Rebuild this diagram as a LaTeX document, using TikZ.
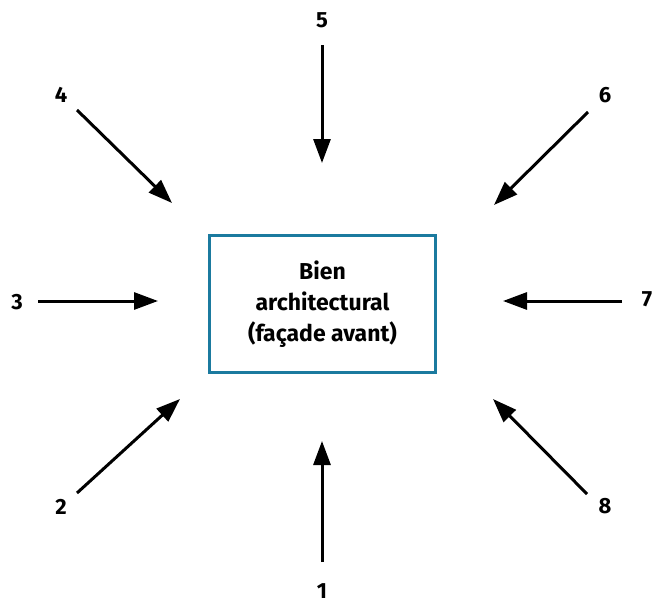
\documentclass[tikz,border=0pt]{standalone}
\usepackage{fontspec}
\setmainfont{Fira Sans}
\usetikzlibrary{arrows.meta}
\definecolor{boxblue}{HTML}{1B7A9F}
\begin{document}
\begin{tikzpicture}[x=1pt,y=-1pt,
  lbl/.style={font=\bfseries\fontsize{22}{26}\selectfont, inner sep=0pt},
  arr/.style={line width=3pt, -{Triangle[length=24pt,width=17pt]}},
  mainbox/.style={draw=boxblue, line width=3pt, minimum width=226pt, minimum height=137pt, align=center,
    font=\bfseries\fontsize{23}{31}\selectfont}]
\useasboundingbox (0,0) rectangle (662,600);
\node[mainbox] (box) at (322.5,304) {Bien\\architectural\\(façade avant)};
% labels
\node[lbl] (l1) at (322,591) {1};
\node[lbl] (l2) at (61,507) {2};
\node[lbl] (l3) at (17,302) {3};
\node[lbl] (l4) at (61,95) {4};
\node[lbl] (l5) at (322,20) {5};
\node[lbl] (l6) at (605,95) {6};
\node[lbl] (l7) at (647,299) {7};
\node[lbl] (l8) at (605,506) {8};
% arrow coordinates
\coordinate (t1) at (322,562); \coordinate (h1) at (322,441);
\coordinate (t2) at (77,493);  \coordinate (h2) at (180,399);
\coordinate (t3) at (38,301);  \coordinate (h3) at (158,301);
\coordinate (t4) at (77,110);  \coordinate (h4) at (172,203);
\coordinate (t5) at (322,45);  \coordinate (h5) at (322,163);
\coordinate (t6) at (588,112); \coordinate (h6) at (494,205);
\coordinate (t7) at (622,301); \coordinate (h7) at (503,301);
\coordinate (t8) at (587,494); \coordinate (h8) at (493,399);
\foreach \i in {1,...,8} {\draw[arr] (t\i) -- (h\i);}
\end{tikzpicture}
\end{document}
